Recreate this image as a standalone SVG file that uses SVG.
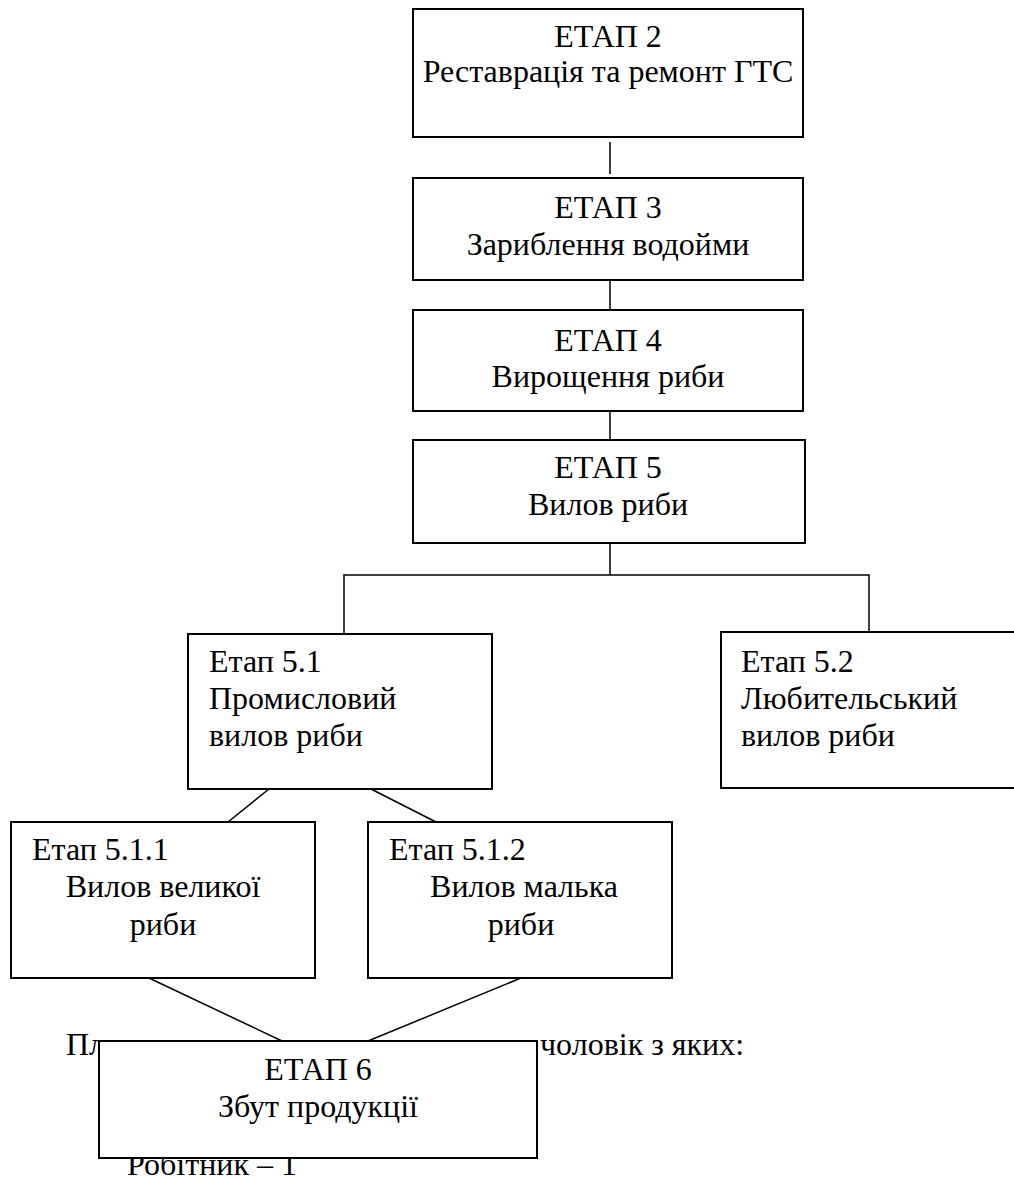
<svg xmlns="http://www.w3.org/2000/svg" width="1014" height="1181" viewBox="0 0 1014 1181">
<style>
  .box { fill: #ffffff; stroke: #000000; stroke-width: 2; }
  .con { fill: none; stroke: #000000; stroke-width: 1.5; }
  text { font-family: "Liberation Serif", "Times New Roman", serif; font-size: 32px; fill: #000000; }
  .c { text-anchor: middle; }
</style>
<rect width="1014" height="1181" fill="#ffffff"/>
<g id="paragraph">
  <text x="66" y="1055">Пл</text>
  <text x="540" y="1055">чоловік з яких:</text>
  <text x="127" y="1175">Робітник – 1</text>
</g>
<g id="connectors">
  <line class="con" x1="610" y1="142" x2="610" y2="174"/>
  <line class="con" x1="610" y1="280" x2="610" y2="310"/>
  <line class="con" x1="610" y1="411" x2="610" y2="440"/>
  <polyline class="con" points="610,543 610,575"/>
  <polyline class="con" points="344,634 344,575 869,575 869,632"/>
  <line class="con" x1="269" y1="789" x2="228" y2="822"/>
  <line class="con" x1="371" y1="789" x2="436" y2="822"/>
  <line class="con" x1="149" y1="978" x2="282" y2="1041"/>
  <line class="con" x1="521" y1="978" x2="368" y2="1041"/>
</g>
<g id="etap2">
  <rect class="box" x="413" y="9" width="390" height="128"/>
  <text class="c" x="608" y="47">ЕТАП 2</text>
  <text class="c" x="608" y="82">Реставрація та ремонт ГТС</text>
</g>
<g id="etap3">
  <rect class="box" x="413" y="178" width="390" height="102"/>
  <text class="c" x="608" y="218">ЕТАП 3</text>
  <text class="c" x="608" y="255">Зариблення водойми</text>
</g>
<g id="etap4">
  <rect class="box" x="413" y="310" width="390" height="101"/>
  <text class="c" x="608" y="351">ЕТАП 4</text>
  <text class="c" x="608" y="387">Вирощення риби</text>
</g>
<g id="etap5">
  <rect class="box" x="413" y="440" width="392" height="103"/>
  <text class="c" x="608" y="478">ЕТАП 5</text>
  <text class="c" x="608" y="515">Вилов риби</text>
</g>
<g id="etap5-1">
  <rect class="box" x="188" y="634" width="304" height="155"/>
  <text x="209" y="672">Етап 5.1</text>
  <text x="209" y="709">Промисловий</text>
  <text x="209" y="746">вилов риби</text>
</g>
<g id="etap5-2">
  <rect class="box" x="721" y="632" width="300" height="156"/>
  <text x="741" y="672">Етап 5.2</text>
  <text x="741" y="709">Любительський</text>
  <text x="741" y="746">вилов риби</text>
</g>
<g id="etap5-1-1">
  <rect class="box" x="11" y="822" width="304" height="156"/>
  <text x="32" y="860">Етап 5.1.1</text>
  <text class="c" x="163" y="897">Вилов великої</text>
  <text class="c" x="163" y="935">риби</text>
</g>
<g id="etap5-1-2">
  <rect class="box" x="368" y="822" width="304" height="156"/>
  <text x="389" y="860">Етап 5.1.2</text>
  <text class="c" x="524" y="897">Вилов малька</text>
  <text class="c" x="521" y="935">риби</text>
</g>
<g id="etap6">
  <rect class="box" x="99" y="1041" width="438" height="117"/>
  <text class="c" x="318" y="1080">ЕТАП 6</text>
  <text class="c" x="318" y="1117">Збут продукції</text>
</g>
</svg>
